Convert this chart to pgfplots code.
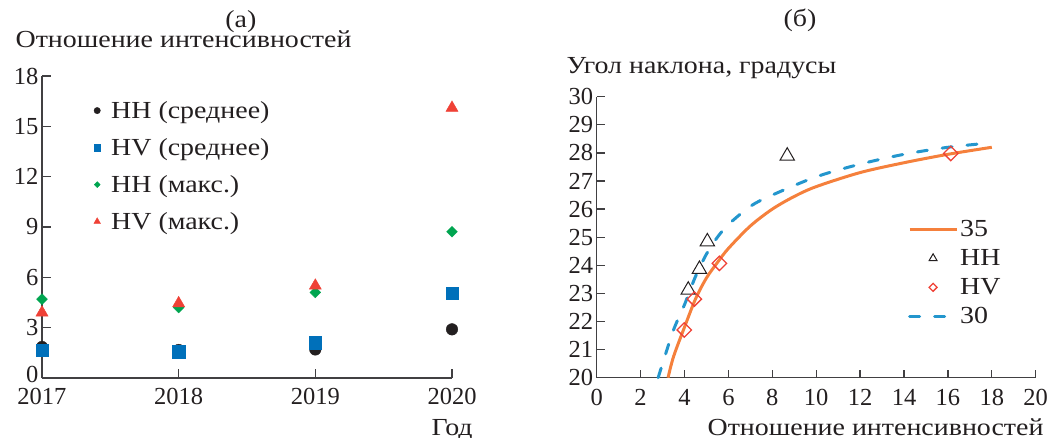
\documentclass[border=0pt]{standalone}
\usepackage{pgfplots}
\pgfplotsset{compat=1.18}
\usepackage{fontspec}
\setmainfont{Liberation Serif}
\newfontfamily\widefont[FakeStretch=1.14]{Liberation Serif}
\definecolor{cblack}{RGB}{35,31,32}
\definecolor{cblue}{RGB}{0,112,186}
\definecolor{cgreen}{RGB}{0,165,80}
\definecolor{cred}{RGB}{239,65,54}
\definecolor{corange}{RGB}{245,128,60}
\definecolor{cdash}{RGB}{35,150,205}
\definecolor{caxis}{RGB}{65,64,66}
\newcommand{\tickf}{\fontsize{24.5}{29}\selectfont\rmfamily}
\newcommand{\labf}{\fontsize{24.5}{29}\selectfont\widefont}
\pgfplotsset{
  mystyle/.style={
    scale only axis,
    axis lines*=left,
    axis line style={caxis, line width=1.3pt},
    tick style={caxis, line width=1.3pt},
    tick align=inside,
    major tick length=9pt,
    clip=false,
    tick label style={font=\tickf, text=cblack},
    xticklabel style={yshift=-7pt},
    /pgf/number format/assume math mode=true,
    legend style={draw=none, fill=none, font=\labf, text=cblack,
      legend cell align=left, row sep=14.5pt},
  }
}
\begin{document}
\begin{tikzpicture}
\useasboundingbox (0,0) rectangle (1051pt,-438pt);
% ---------- (a) ----------
\begin{axis}[mystyle,
  at={(42pt,-378pt)}, anchor=south west,
  width=410pt, height=302pt,
  xmin=2017, xmax=2020, ymin=0, ymax=18,
  xtick={2017,2018,2019,2020},
  ytick={3,6,9,12,15,18},
  extra y ticks={0},
  extra y tick style={yticklabel style={yshift=4pt}},
  xticklabel style={/pgf/number format/1000 sep={}},
  title={(а)},
  every axis title/.style={at={(rel axis cs:0.485,1.18)}, anchor=center, font=\labf, text=cblack},
  ylabel={Отношение интенсивностей},
  every axis y label/.style={at={(rel axis cs:-0.073,1.096)}, anchor=base west, font=\labf, text=cblack},
  xlabel={Год},
  every axis x label/.style={at={(rel axis cs:1.059,-0.189)}, anchor=base east, font=\labf, text=cblack},
  legend image code/.code={\path[draw=none,fill=none] (0pt,0pt) -- (18pt,0pt);\draw[mark repeat=2,mark phase=2,#1,/tikz/every mark/.append style={scale=0.55}] plot coordinates {(0pt,0pt)(6pt,0pt)(18pt,0pt)};},
  legend style={at={(rel axis cs:0.1122,0.93)}, anchor=north west},
]
\addplot[only marks, mark=*, mark size=5.8pt, color=cblack] coordinates {(2017,1.85)(2018,1.67)(2019,1.7)(2020,2.9)};
\addlegendentry{HH (среднее)}
\addplot[only marks, mark=square*, mark size=6.1pt, color=cblue] coordinates {(2017,1.65)(2018,1.57)(2019,2.1)(2020,5.05)};
\addlegendentry{HV (среднее)}
\addplot[only marks, mark=square*, mark size=3.8pt, mark options={rotate=45}, color=cgreen] coordinates {(2017,4.7)(2018,4.2)(2019,5.1)(2020,8.72)};
\addlegendentry{HH (макс.)}
\addplot[only marks, mark=triangle*, mark size=7pt, color=cred] coordinates {(2017,3.9)(2018,4.45)(2019,5.5)(2020,16.1)};
\addlegendentry{HV (макс.)}
\end{axis}
% ---------- (b) ----------
\begin{axis}[mystyle,
  at={(596.7pt,-377.7pt)}, anchor=south west,
  width=439pt, height=281pt,
  xmin=0, xmax=20, ymin=20, ymax=30,
  xtick={0,2,...,20},
  ytick={20,21,...,30},
  major tick length=8pt,
  xticklabel style={yshift=-1pt},
  title={(б)},
  every axis title/.style={at={(rel axis cs:0.463,1.273)}, anchor=center, font=\labf, text=cblack},
  ylabel={Угол наклона, градусы},
  every axis y label/.style={at={(rel axis cs:-0.0768,1.081)}, anchor=base west, font=\labf, text=cblack},
  xlabel={Отношение интенсивностей},
  every axis x label/.style={at={(rel axis cs:1.026,-0.204)}, anchor=base east, font=\labf, text=cblack},
  legend image code/.code={\draw[mark repeat=2,mark phase=2,#1,/tikz/every mark/.append style={scale=0.55}] plot coordinates {(0pt,0pt)(23.5pt,0pt)(47pt,0pt)};},
  legend style={at={(rel axis cs:0.702,0.575)}, anchor=north west, row sep=7.5pt},
]
\addplot[color=corange, line width=3pt, smooth, no marks] coordinates {
(3.25,20)(3.5,20.75)(4,21.8)(4.5,22.8)(5,23.55)(5.5,24.1)(6,24.6)(7,25.4)(8,26.0)(9,26.45)(10,26.8)(12,27.3)(14,27.65)(16,27.95)(18,28.2)};
\addlegendentry{35}
\addplot[only marks, mark=triangle, mark size=8.3pt, color=cblack, mark options={line width=1pt}] coordinates {(4.17,23.12)(4.68,23.86)(5.04,24.84)(8.68,27.89)};
\addlegendentry{HH}
\addplot[only marks, mark=square, mark size=5.1pt, color=cred, mark options={rotate=45, line width=1.3pt}] coordinates {(3.99,21.7)(4.45,22.8)(5.59,24.07)(16.13,27.98)};
\addlegendentry{HV}
\addplot[color=cdash, line width=3pt, smooth, no marks, dash pattern=on 10pt off 15pt, line cap=round] coordinates {
(2.8,20)(3,20.5)(3.5,21.7)(4,22.6)(4.5,23.6)(5,24.4)(5.5,25.0)(6,25.45)(7,26.1)(8,26.5)(10,27.15)(12,27.6)(14,27.95)(16,28.2)(18,28.36)};
\addlegendentry{30}
\end{axis}
\end{tikzpicture}
\end{document}
